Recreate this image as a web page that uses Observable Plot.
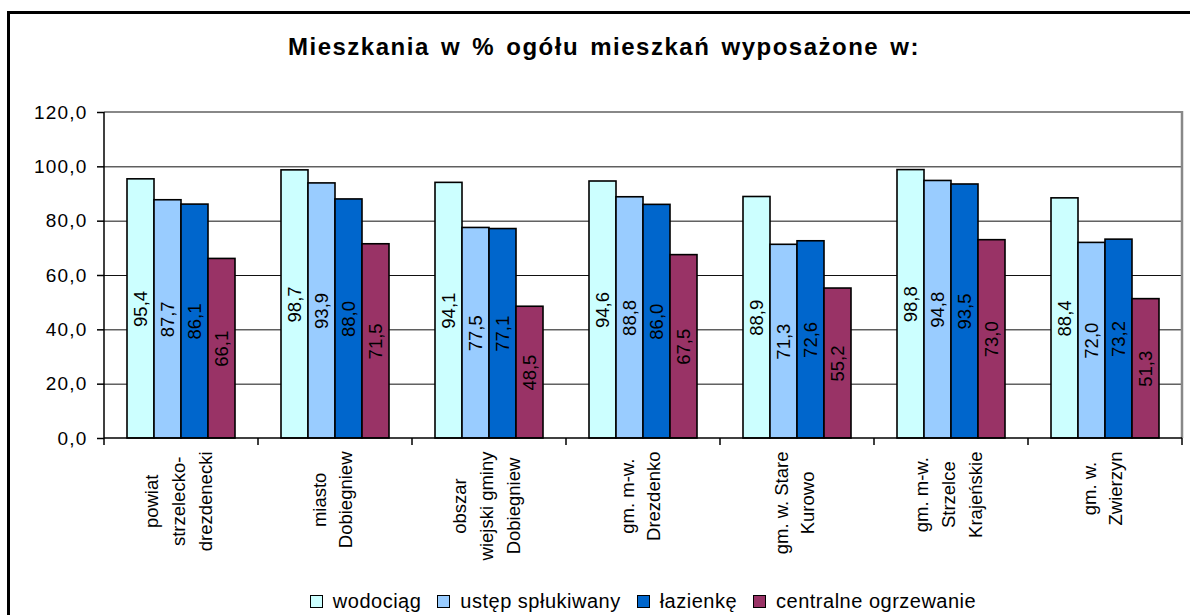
<!DOCTYPE html>
<html><head><meta charset="utf-8">
<script src="https://cdn.jsdelivr.net/npm/d3@7"></script>
<script src="https://cdn.jsdelivr.net/npm/@observablehq/plot@0.6"></script>
<style>
html,body{margin:0;padding:0;background:#fff;}
body{width:1190px;height:615px;overflow:hidden;position:relative;font-family:"Liberation Sans",Arial,sans-serif;}
#border{position:absolute;left:7px;top:11px;width:1300px;height:700px;border-left:3px solid #000;border-top:3px solid #000;box-sizing:border-box;}
#chart{position:absolute;left:0;top:0;}
#title{position:absolute;left:0;width:1208px;top:35px;text-align:center;font-weight:bold;font-size:24px;line-height:24px;letter-spacing:1.5px;word-spacing:3px;color:#000;white-space:nowrap;}
#legend{position:absolute;left:0;width:1286px;top:591px;display:flex;justify-content:center;align-items:center;font-size:20px;line-height:20px;letter-spacing:0.5px;color:#000;white-space:nowrap;}
#legend .item{display:flex;align-items:center;margin:0 8px;}
#legend .sw{width:11px;height:11px;border:1px solid #000;margin-right:10px;}
[aria-label="y-axis tick label"] text{letter-spacing:1.2px;}
</style>
</head><body>
<div id="border"></div>
<div id="chart"></div>
<div id="title">Mieszkania w % ogółu mieszkań wyposażone w:</div>
<div id="legend"></div>
<script>
// ---- data ----
const categories = [
  "powiat\nstrzelecko-\ndrezdenecki",
  "miasto\nDobiegniew",
  "obszar\nwiejski gminy\nDobiegniew",
  "gm. m-w.\nDrezdenko",
  "gm. w. Stare\nKurowo",
  "gm. m-w.\nStrzelce\nKrajeńskie",
  "gm. w.\nZwierzyn"
];
const series = ["wodociąg", "ustęp spłukiwany", "łazienkę", "centralne ogrzewanie"];
const wodociag = [95.4, 98.7, 94.1, 94.6, 88.9, 98.8, 88.4];
const ustep = [87.7, 93.9, 77.5, 88.8, 71.3, 94.8, 72.0];
const lazienka = [86.1, 88.0, 77.1, 86.0, 72.6, 93.5, 73.2];
const ogrzewanie = [66.1, 71.5, 48.5, 67.5, 55.2, 73.0, 51.3];
const yTicks = [0, 20, 40, 60, 80, 100, 120];
const colors = ["#CCFFFF", "#99CCFF", "#0066CC", "#993366"];

const seriesValues = [wodociag, ustep, lazienka, ogrzewanie];
const rows = [];
categories.forEach((c, i) => series.forEach((s, j) => rows.push({cat: c, series: s, value: seriesValues[j][i]})));

const fmt = v => v.toFixed(1).replace(".", ",");

// legend
const legend = document.getElementById("legend");
series.forEach((s, j) => {
  const item = document.createElement("div");
  item.className = "item";
  const sw = document.createElement("div");
  sw.className = "sw";
  sw.style.background = colors[j];
  const t = document.createElement("span");
  t.textContent = s;
  item.appendChild(sw); item.appendChild(t);
  legend.appendChild(item);
});

// measure label lengths to center rotated multi-line labels
const xLabelSize = 18.5;
const ctx = document.createElement("canvas").getContext("2d");
ctx.font = `${xLabelSize}px "Liberation Sans"`;
const maxLine = c => Math.max(...c.split("\n").map(l => ctx.measureText(l).width));

// axis decoration drawn from the fx / y scales
const decor = Plot.frame({
  facet: "super",
  render(index, scales, values, dims) {
    const {fx, y} = scales;
    const dom = fx.domain();
    const edges = dom.map(d => fx(d)).concat([fx(dom[dom.length - 1]) + fx.bandwidth()]);
    const x0 = edges[0], x1 = edges[edges.length - 1];
    const yb = y(0), yt = y(yTicks[yTicks.length - 1]);
    const g = d3.create("svg:g");
    g.append("line").attr("x1", x1).attr("x2", x1).attr("y1", yt - 1).attr("y2", yb).attr("stroke", "#888").attr("stroke-width", 2.5);
    g.append("line").attr("x1", x0).attr("x2", x1).attr("y1", yt).attr("y2", yt).attr("stroke", "#888").attr("stroke-width", 2);
    g.append("line").attr("x1", x0).attr("x2", x0).attr("y1", yt).attr("y2", yb).attr("stroke", "#000").attr("stroke-width", 1.5);
    g.append("line").attr("x1", x0).attr("x2", x1).attr("y1", yb).attr("y2", yb).attr("stroke", "#000").attr("stroke-width", 1.5);
    edges.forEach(e => g.append("line").attr("x1", e).attr("x2", e).attr("y1", yb).attr("y2", yb + 7).attr("stroke", "#000").attr("stroke-width", 1.5));
    return g.node();
  }
});

const plot = Plot.plot({
  width: 1190,
  height: 615,
  marginLeft: 102,
  marginRight: 6,
  marginTop: 112,
  marginBottom: 177,
  style: {fontFamily: '"Liberation Sans", Arial, sans-serif', fontSize: "19px", color: "#000", background: "transparent"},
  fx: {domain: categories, paddingInner: 0, paddingOuter: 0, axis: null, label: null},
  x: {domain: series, paddingInner: 0, paddingOuter: 0.76, axis: null, label: null},
  y: {domain: [0, 120], axis: null, label: null},
  color: {domain: series, range: colors},
  marks: [
    Plot.gridY(yTicks.slice(1, -1), {stroke: "#111", strokeOpacity: 1, strokeWidth: 1}),
    Plot.barY(rows, {fx: "cat", x: "series", y: "value", fill: "series", stroke: "#000", strokeWidth: 1.6}),
    Plot.text(rows, {fx: "cat", x: "series", y: d => d.value / 2, text: d => fmt(d.value), rotate: -90, fontSize: 18.5, fill: "#000"}),
    Plot.axisY(yTicks, {tickSize: 7, tickPadding: 10, tickFormat: fmt, fontSize: 19, stroke: "#000", strokeWidth: 1.5, label: null}),
    ...categories.map(c => Plot.text([c], {fx: d => d, text: d => d, frameAnchor: "bottom", lineAnchor: "middle", rotate: -90, textAnchor: "middle", lineHeight: 1.45, fontSize: xLabelSize, fill: "#000", dx: -5, dy: 13 + maxLine(c) / 2})),
    decor
  ]
});
document.getElementById("chart").appendChild(plot);
</script>
</body></html>
